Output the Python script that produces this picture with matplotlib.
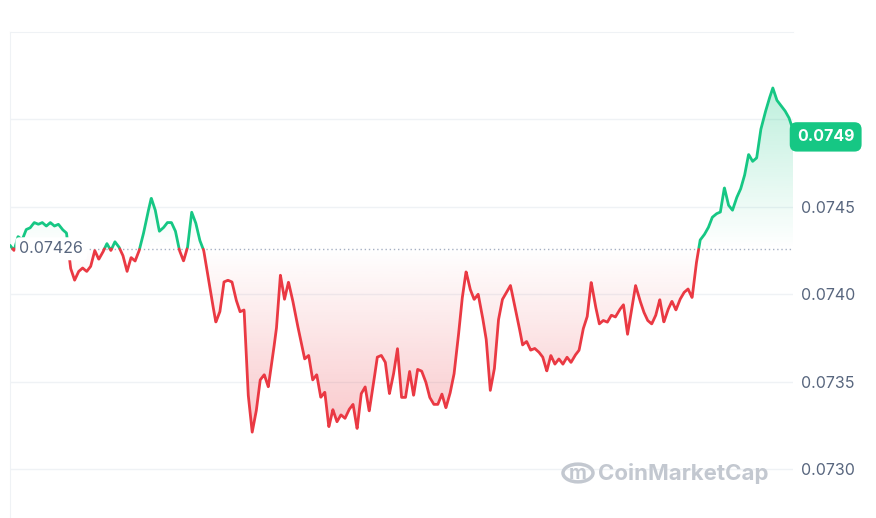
import matplotlib
matplotlib.use("Agg")
import matplotlib.pyplot as plt
import numpy as np
from matplotlib.patches import PathPatch, Circle
from matplotlib.path import Path

prices_e5 = [7428,7425,7433,7431,7437,7438,7441,7440,7441,7439,7441,7439,7440,7437,7435,
7415,7408,7413,7415,7413,7416,7425,7420,7424,7429,7425,7430,7427,7422,7413,7421,7419,7425,
7434,7445,7455,7448,7436,7438,7441,7441,7436,7425,7419,7427,7447,7441,7431,7425,7411,7397,
7384,7390,7407,7408,7407,7397,7390,7391,7343,7321,7333,7351,7354,7347,7363,7380,7411,7397,
7407,7397,7385,7374,7363,7365,7351,7354,7341,7344,7324,7334,7327,7331,7329,7334,7337,7323,
7343,7347,7333,7348,7364,7365,7361,7343,7354,7369,7341,7341,7356,7342,7357,7356,7350,7341,
7337,7337,7343,7335,7343,7354,7374,7397,7413,7403,7397,7400,7388,7374,7345,7357,7385,7397,
7401,7405,7394,7383,7371,7373,7368,7369,7367,7364,7356,7365,7360,7363,7360,7364,7361,7365,
7368,7380,7387,7407,7394,7383,7385,7384,7388,7387,7391,7394,7377,7391,7405,7397,7390,7385,
7383,7388,7397,7384,7391,7396,7391,7397,7401,7403,7398,7417,7431,7434,7438,7444,7446,7447,
7461,7451,7448,7455,7460,7468,7480,7476,7478,7494,7503,7511,7518,7511,7508,7505,7501,7494]
prices = np.array(prices_e5) / 100000.0
baseline = 0.07426
last_price = "0.0749"
yticks = [0.0730, 0.0735, 0.0740, 0.0745, 0.0750]
ylabels = ["0.0730", "0.0735", "0.0740", "0.0745", ""]

GREEN = "#16c784"
RED = "#ea3943"
GRAY = "#58667e"

W, H = 876, 518
fig = plt.figure(figsize=(W/100, H/100), dpi=100)
ax = fig.add_axes([10/W, 0, 783/W, 1 - 32/H])
x = np.arange(len(prices))
n_last = len(prices) - 1
ymin, ymax = 0.07272, 0.0755

for t in yticks:
    ax.axhline(t, color="#eff2f5", lw=1, zorder=0)

xf = np.linspace(0, n_last, 4000)
pf = np.interp(xf, x, prices)

def grad_fill(above, color, y_far):
    yf = np.maximum(pf, baseline) if above else np.minimum(pf, baseline)
    verts = [(xf[0], baseline)] + list(zip(xf, yf)) + [(xf[-1], baseline)]
    patch = PathPatch(Path(verts), facecolor="none", edgecolor="none")
    ax.add_patch(patch)
    rgb = matplotlib.colors.to_rgb(color)
    n = 256
    img = np.zeros((n, 1, 4))
    img[:, 0, :3] = rgb
    img[:, 0, 3] = np.linspace(0.0, 0.28, n)
    if y_far > baseline:
        im = ax.imshow(img, extent=[0, n_last, baseline, y_far], origin="lower", aspect="auto", zorder=1)
    else:
        im = ax.imshow(img, extent=[0, n_last, y_far, baseline], origin="upper", aspect="auto", zorder=1)
    im.set_clip_path(patch)

grad_fill(True, GREEN, prices.max())
grad_fill(False, RED, prices.min())
ax.set_xlim(0, n_last)
ax.set_ylim(ymin, ymax)

ax.plot(xf, np.where(pf >= baseline, pf, np.nan), color=GREEN, lw=2, zorder=3, solid_capstyle="round")
ax.plot(xf, np.where(pf <= baseline, pf, np.nan), color=RED, lw=2, zorder=3, solid_capstyle="round")
ax.axhline(baseline, color="#a6b0c3", lw=1, ls=(0, (1, 2)), zorder=2)

for s in ["right", "bottom"]:
    ax.spines[s].set_visible(False)
for s in ["left", "top"]:
    ax.spines[s].set_color("#eff2f5")
ax.set_xticks([])
ax.yaxis.tick_right()
ax.set_yticks(yticks)
ax.set_yticklabels(ylabels, color=GRAY, fontsize=11.5, family="Inter")
ax.tick_params(axis="y", length=0, pad=6)

ax.text(0.012, baseline, "0.07426", transform=ax.get_yaxis_transform(), va="center", ha="left",
        fontsize=11.5, color=GRAY, family="Inter", zorder=5,
        bbox=dict(boxstyle="round,pad=0.25", fc="white", ec="none"))
ax.text(1.005, 0.0749, last_price, transform=ax.get_yaxis_transform(), va="center", ha="left",
        fontsize=11.5, color="white", weight="bold", family="Inter", zorder=5, clip_on=False,
        bbox=dict(boxstyle="round,pad=0.45", fc=GREEN, ec="none"))
fig.text(598/W, 1 - 473/H, "CoinMarketCap", fontsize=16, color="#c3c8d0", va="center", family="Inter", weight="bold")
fig.patches.append(Circle((578/W, 1 - 473/H), 15/W, transform=fig.transFigure,
                          fill=False, ec="#c3c8d0", lw=2.5))
fig.text(578/W, 1 - 474/H, "m", fontsize=14, color="#c3c8d0", va="center", ha="center", weight="bold", family="Inter")

fig.savefig("out.png", dpi=100)
